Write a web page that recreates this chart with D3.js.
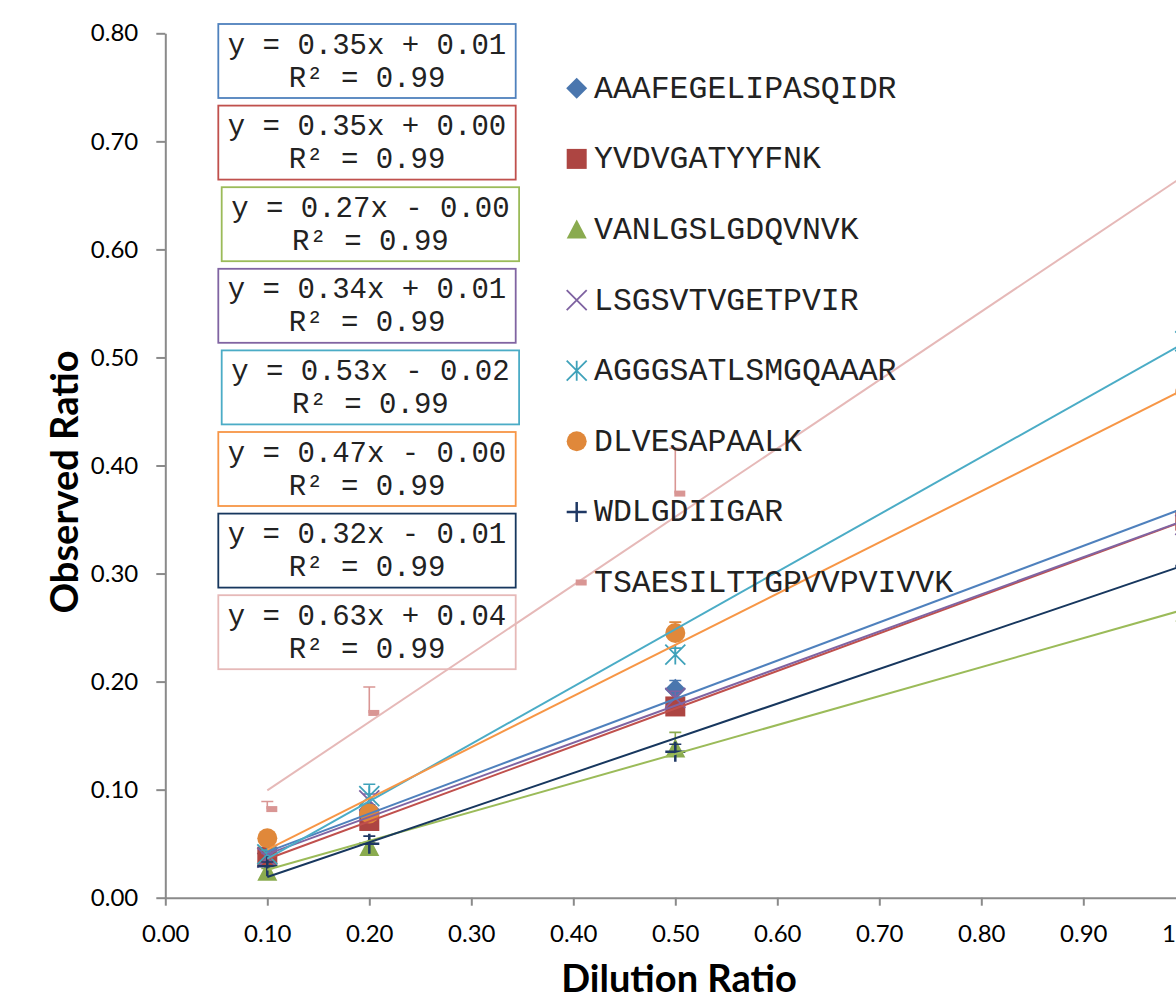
<!DOCTYPE html>
<html>
<head>
<meta charset="utf-8">
<script src="https://cdn.jsdelivr.net/npm/d3@7"></script>
<style>
  body { margin: 0; background: #fff; overflow: hidden; }
  svg { display: block; }
  .axis path, .axis line { stroke: #8a8a8a; stroke-width: 2; }
  .axis text { font-family: Lato, sans-serif; font-size: 24px; fill: #000; }
  .title { font-family: Lato, sans-serif; font-weight: bold; font-size: 38px; fill: #000; }
  .mono { font-family: "Liberation Mono", "Courier New", monospace; fill: #222; }
</style>
</head>
<body>
<div id="chart"></div>
<script>
/* Data */
var peptides = ["AAAFEGELIPASQIDR", "YVDVGATYYFNK", "VANLGSLGDQVNVK", "LSGSVTVGETPVIR",
                "AGGGSATLSMGQAAAR", "DLVESAPAALK", "WDLGDIIGAR", "TSAESILTTGPVVPVIVVK"];
var dilution = [0.1, 0.2, 0.5, 1.0];

var observed = [
  [0.041, 0.081, 0.193, 0.358],
  [0.038, 0.071, 0.177, 0.349],
  [0.024, 0.047, 0.138, 0.264],
  [0.037, 0.090, 0.185, 0.345],
  [0.040, 0.094, 0.225, 0.515],
  [0.055, 0.078, 0.245, 0.468],
  [0.029, 0.050, 0.135, 0.307],
  [0.082, 0.171, 0.374, 0.660]
];
var errPlus = [
  [0.004, 0.005, 0.008, 0.010],
  [0.003, 0.004, 0.005, 0.010],
  [0.003, 0.004, 0.015, 0.010],
  [0.004, 0.006, 0.006, 0.010],
  [0.004, 0.011, 0.006, 0.010],
  [0.003, 0.004, 0.010, 0.010],
  [0.004, 0.007, 0.007, 0.010],
  [0.007, 0.024, 0.042, 0.020]
];

// linear trendlines
var slopes     = [0.354, 0.348, 0.268, 0.3435, 0.531, 0.474, 0.321, 0.633];
var intercepts = [0.007, 0.001, -0.001, 0.006, -0.017, -0.003, -0.013, 0.036];
var rSquared   = [0.99, 0.99, 0.99, 0.99, 0.99, 0.99, 0.99, 0.99];

var xTicks = [0, 0.1, 0.2, 0.3, 0.4, 0.5, 0.6, 0.7, 0.8, 0.9, 1.0];
var yTicks = [0, 0.1, 0.2, 0.3, 0.4, 0.5, 0.6, 0.7, 0.8];

/* Styles */
var lineColors   = ["#4f81bd", "#c0504d", "#9bbb59", "#8064a2", "#4bacc6", "#f79646", "#17375e", "#e6b9b8"];
var markerColors = ["#4a76ae", "#ad4542", "#8aab4f", "#7e62a1", "#3fa2ba", "#e0883a", "#1f3864", "#d99694"];
var shapes = ["diamond", "square", "triangle", "x", "star", "circle", "plus", "dash"];

var width = 1176, height = 1005;
var plotLeft = 165.3, plotTop = 33.3, plotW = 1020, plotH = 864.4;

var svg = d3.select("#chart").append("svg")
  .attr("width", width)
  .attr("height", height);

/* Scales */
var x = d3.scaleLinear().domain([0, 1]).range([plotLeft, plotLeft + plotW]);
var y = d3.scaleLinear().domain([0, 0.8]).range([plotTop + plotH, plotTop]);

/* Axes */
svg.append("g")
  .attr("class", "axis")
  .attr("transform", `translate(0, ${y(0)})`)
  .call(d3.axisBottom(x).tickValues(xTicks).tickSize(8).tickSizeOuter(0).tickPadding(19)
    .tickFormat(d => d.toFixed(2)));

svg.append("g")
  .attr("class", "axis")
  .attr("transform", `translate(${x(0)}, 0)`)
  .call(d3.axisLeft(y).tickValues(yTicks).tickSize(9).tickSizeOuter(0).tickPadding(18)
    .tickFormat(d => d.toFixed(2)));

svg.selectAll(".axis .tick text").attr("fill", "#000");

svg.append("text")
  .attr("class", "title")
  .attr("text-anchor", "middle")
  .attr("x", 679)
  .attr("y", 992)
  .text("Dilution Ratio");

svg.append("text")
  .attr("class", "title")
  .attr("text-anchor", "middle")
  .attr("transform", "translate(78, 482) rotate(-90)")
  .text("Observed Ratio");

/* Markers */
function drawMarker(g, shape, color) {
  var h = 10;
  if (shape == "diamond") {
    g.append("path").attr("d", `M0,${-h-0.5}L${h+0.5},0L0,${h+0.5}L${-h-0.5},0Z`).attr("fill", color);
  } else if (shape == "square") {
    g.append("rect").attr("x", -h).attr("y", -h).attr("width", 2 * h).attr("height", 2 * h).attr("fill", color);
  } else if (shape == "triangle") {
    g.append("path").attr("d", `M0,${-h}L${h},${h - 1}L${-h},${h - 1}Z`).attr("fill", color);
  } else if (shape == "circle") {
    g.append("circle").attr("r", h).attr("fill", color);
  } else if (shape == "dash") {
    g.append("rect").attr("x", -1).attr("y", -3).attr("width", 11).attr("height", 6).attr("fill", color);
  } else {
    var p = "";
    if (shape == "x" || shape == "star") p += `M${-h},${-h}L${h},${h}M${h},${-h}L${-h},${h}`;
    if (shape == "star") p += `M0,${-h}L0,${h}`;
    if (shape == "plus") p += `M${-h},0L${h},0M0,${-h}L0,${h}`;
    g.append("path").attr("d", p).attr("fill", "none")
      .attr("stroke", color).attr("stroke-width", shape == "plus" ? 2.5 : 1.8);
  }
}

var series = svg.append("g").attr("class", "series");

peptides.forEach(function(name, i) {
  var g = series.append("g");
  dilution.forEach(function(dx, j) {
    var v = observed[i][j], e = errPlus[i][j];
    // plus error bar
    g.append("path")
      .attr("d", `M${x(dx)},${y(v)}V${y(v + e)}M${x(dx) - 6},${y(v + e)}H${x(dx) + 6}`)
      .attr("fill", "none")
      .attr("stroke", markerColors[i])
      .attr("stroke-width", 1.6);
    var m = g.append("g").attr("transform", `translate(${x(dx)}, ${y(v)})`);
    drawMarker(m, shapes[i], markerColors[i]);
  });
});

/* Trendlines */
var line = d3.line().x(d => x(d[0])).y(d => y(d[1]));

svg.append("g").attr("class", "trend")
  .selectAll("path")
  .data(peptides).enter()
  .append("path")
  .attr("d", (d, i) => line([[0.1, slopes[i] * 0.1 + intercepts[i]], [1.0, slopes[i] + intercepts[i]]]))
  .attr("fill", "none")
  .attr("stroke", (d, i) => lineColors[i])
  .attr("stroke-width", 2);

/* Equation boxes */
var boxShift = [0, 0, 3.4, 0, 3.4, 0, 0, 0];
var boxes = svg.append("g").attr("class", "equations");

peptides.forEach(function(name, i) {
  var bx = 218.3 + boxShift[i], by = 24 + i * 81.6, bw = 297.4, bh = 74;
  var b = intercepts[i];
  var eq = "y = " + slopes[i].toFixed(2) + "x " + (b < 0 ? "- " : "+ ") + Math.abs(b).toFixed(2);
  boxes.append("rect")
    .attr("x", bx).attr("y", by).attr("width", bw).attr("height", bh)
    .attr("fill", "none")
    .attr("stroke", lineColors[i])
    .attr("stroke-width", 1.8);
  boxes.append("text")
    .attr("class", "mono")
    .attr("text-anchor", "middle")
    .attr("font-size", "29px")
    .attr("x", bx + bw / 2).attr("y", by + 29.5)
    .text(eq);
  boxes.append("text")
    .attr("class", "mono")
    .attr("text-anchor", "middle")
    .attr("font-size", "29px")
    .attr("x", bx + bw / 2).attr("y", by + 62.5)
    .text("R\u00b2 = " + rSquared[i].toFixed(2));
});

/* Legend */
var legend = svg.append("g").attr("class", "legend");

peptides.forEach(function(name, i) {
  var cy = 88.3 + i * 70.6;
  var m = legend.append("g").attr("transform", `translate(576.7, ${cy})`);
  drawMarker(m, shapes[i], markerColors[i]);
  legend.append("text")
    .attr("class", "mono")
    .attr("font-size", "31.5px")
    .attr("x", 594)
    .attr("y", cy + 9.5)
    .text(name);
});
</script>
</body>
</html>
